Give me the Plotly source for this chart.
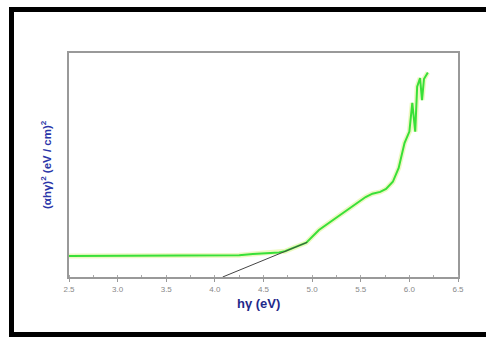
import plotly.graph_objects as go

# Photon energy (eV) and (alpha*h*nu)^2 in arbitrary units
energy = [2.50, 3.00, 3.50, 4.00, 4.15, 4.25, 4.39, 4.50, 4.66, 4.72, 4.80, 4.94,
          5.07, 5.20, 5.35, 5.45, 5.55, 5.62, 5.70, 5.76, 5.83, 5.89, 5.95, 6.00,
          6.03, 6.06, 6.08, 6.11, 6.13, 6.15, 6.19]
absorption = [0.94, 0.94, 0.94, 0.94, 0.94, 0.97, 1.03, 1.06, 1.09, 1.15, 1.29, 1.53,
              2.10, 2.50, 2.92, 3.25, 3.57, 3.72, 3.80, 3.93, 4.25, 4.87, 5.98, 6.49,
              7.77, 6.49, 8.50, 8.88, 7.90, 8.84, 9.13]

# Linear extrapolation of the absorption edge
fit_x = [4.08, 4.95]
fit_y = [0.0, 1.55]

x_ticks = [2.5, 3.0, 3.5, 4.0, 4.5, 5.0, 5.5, 6.0, 6.5]
x_tick_text = ["2.5", "3.0", "3.5", "4.0", "4.5", "5.0", "5.5", "6.0", "6.5"]

W, H = 486, 338
ML, MR, MT, MB = 69, 28, 53, 61
pw = W - ML - MR
ph = H - MT - MB


def px(x):
    return (x - ML) / pw


def py(y):
    return (H - MB - y) / ph


fig = go.Figure()

# soft halo under the data curve
fig.add_trace(go.Scatter(x=energy, y=absorption, mode="lines",
                         line=dict(color="rgba(215,240,120,0.45)", width=5),
                         hoverinfo="skip", showlegend=False))
fig.add_trace(go.Scatter(x=energy, y=absorption, mode="lines",
                         line=dict(color="#38e038", width=2),
                         showlegend=False))
fig.add_trace(go.Scatter(x=fit_x, y=fit_y, mode="lines",
                         line=dict(color="#444444", width=1),
                         showlegend=False))

fig.update_layout(
    width=W, height=H,
    margin=dict(l=ML, r=MR, t=MT, b=MB),
    paper_bgcolor="white", plot_bgcolor="white",
    font=dict(family="Arial, Liberation Sans, sans-serif"),
    xaxis=dict(range=[2.5, 6.5], tickvals=x_ticks, ticktext=x_tick_text,
               showgrid=False, zeroline=False, showline=True, mirror=True,
               linecolor="#999999", linewidth=2,
               ticks="outside", ticklen=3, tickcolor="#999999",
               minor=dict(dtick=0.25, ticks="inside", ticklen=2, tickcolor="#aaaaaa"),
               tickfont=dict(size=8, color="#888888")),
    yaxis=dict(range=[0, 10], showticklabels=False, ticks="",
               showgrid=False, zeroline=False, showline=True, mirror=True,
               linecolor="#999999", linewidth=2),
    annotations=[
        dict(text="<b>hγ (eV)</b>", x=px(258), y=py(294), xref="paper", yref="paper",
             xanchor="center", yanchor="top", showarrow=False,
             font=dict(size=13, color="#1f2a8a")),
        dict(text="<b>(αhγ)<sup>2</sup> (eV / cm)<sup>2</sup></b>", x=px(37), y=py(165),
             xref="paper", yref="paper", showarrow=False, textangle=-90,
             font=dict(size=11.5, color="#2a35a8")),
    ],
    shapes=[
        # black outer frame
        dict(type="rect", xref="paper", yref="paper",
             x0=px(11.5), x1=px(490), y0=py(334.5), y1=py(9.5),
             line=dict(color="black", width=5)),
    ],
)

fig.write_html("out.html")
